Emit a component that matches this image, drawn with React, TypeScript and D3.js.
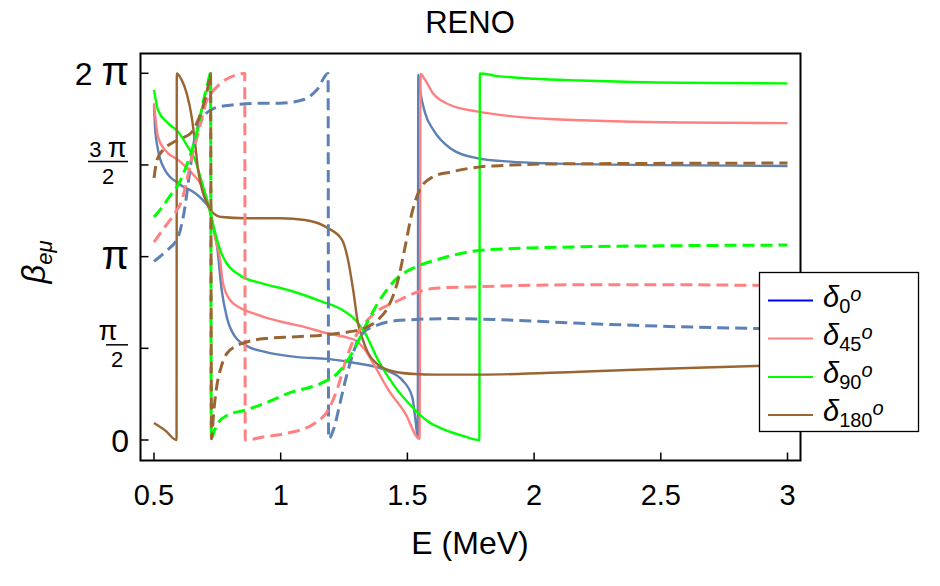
import React from 'react';
import * as d3 from 'd3';

type Pt = [number, number];

// beta_e-mu phase (rad) against neutrino energy E (MeV); solid and dashed branches per delta
const delta0Solid: Pt[] = [
  [0.5, 5.74], [0.504, 5.36], [0.516, 4.97], [0.543, 4.63], [0.595, 4.4], [0.662, 4.23],
  [0.693, 4.11], [0.721, 3.94], [0.733, 3.65], [0.749, 3.31], [0.767, 2.57], [0.787, 2.11],
  [0.82, 1.77], [0.871, 1.6], [0.938, 1.51], [1.065, 1.42], [1.183, 1.39], [1.294, 1.32],
  [1.412, 1.2], [1.479, 1.03], [1.519, 0.74], [1.533, 0.3], [1.541, 0.03], [1.543, 6.26],
  [1.55, 6.0], [1.57, 5.6], [1.603, 5.31], [1.669, 5.0], [1.774, 4.83], [1.905, 4.77],
  [2.063, 4.74], [2.5, 4.71], [3.0, 4.695],
];
const delta45Solid: Pt[] = [
  [0.5, 5.77], [0.516, 5.19], [0.543, 4.97], [0.595, 4.8], [0.65, 4.57], [0.69, 4.34],
  [0.713, 4.06], [0.729, 3.77], [0.741, 3.48], [0.761, 3.08], [0.772, 2.69], [0.8, 2.4],
  [0.846, 2.25], [0.899, 2.16], [0.938, 2.1], [1.029, 2.0], [1.1, 1.93], [1.163, 1.85],
  [1.266, 1.75], [1.294, 1.71], [1.333, 1.54], [1.372, 1.26], [1.425, 0.86], [1.491, 0.46],
  [1.548, 0.02], [1.552, 6.27], [1.57, 6.17], [1.601, 5.94], [1.669, 5.74], [1.774, 5.63],
  [1.905, 5.55], [2.063, 5.5], [2.182, 5.48], [2.577, 5.44], [3.0, 5.43],
];
const delta90Solid: Pt[] = [
  [0.5, 6.0], [0.516, 5.65], [0.555, 5.43], [0.595, 5.28], [0.634, 5.02], [0.662, 4.8],
  [0.69, 4.4], [0.709, 4.11], [0.729, 3.77], [0.749, 3.43], [0.772, 3.14], [0.84, 2.82],
  [0.93, 2.68], [1.029, 2.57], [1.163, 2.37], [1.242, 2.23], [1.294, 2.06], [1.333, 1.83],
  [1.384, 1.37], [1.451, 0.91], [1.518, 0.57], [1.58, 0.32], [1.65, 0.17], [1.72, 0.07],
  [1.784, 0.0], [1.786, 6.28], [1.85, 6.24], [2.0, 6.19], [2.182, 6.16], [2.577, 6.12],
  [3.0, 6.11],
];
const delta180Solid: Pt[] = [
  [0.5, 0.29], [0.545, 0.16], [0.589, 0.0], [0.59, 6.28], [0.609, 6.17], [0.629, 5.94],
  [0.649, 5.53], [0.662, 5.09], [0.674, 4.63], [0.69, 4.28], [0.709, 4.06], [0.729, 3.91],
  [0.768, 3.82], [0.859, 3.8], [1.0, 3.8], [1.096, 3.77], [1.187, 3.63], [1.242, 3.43],
  [1.266, 3.08], [1.286, 2.57], [1.305, 2.0], [1.321, 1.76], [1.345, 1.49], [1.384, 1.29],
  [1.451, 1.17], [1.53, 1.13], [1.609, 1.12], [1.787, 1.12], [2.182, 1.17], [2.577, 1.23],
  [3.0, 1.285],
];

const delta0Dashed: Pt[] = [
  [0.5, 3.06], [0.543, 3.22], [0.595, 3.48], [0.622, 3.99], [0.642, 4.63], [0.662, 5.19],
  [0.693, 5.52], [0.741, 5.69], [0.808, 5.74], [0.938, 5.77], [0.997, 5.77], [1.088, 5.83],
  [1.143, 6.0], [1.187, 6.28], [1.189, 0.02], [1.21, 0.2], [1.234, 0.63], [1.254, 1.0],
  [1.274, 1.32], [1.305, 1.71], [1.33, 1.86], [1.365, 1.94], [1.471, 2.05], [1.669, 2.08],
  [1.866, 2.06], [2.182, 2.0], [2.577, 1.94], [2.88, 1.91], [3.0, 1.9],
];
const delta45Dashed: Pt[] = [
  [0.5, 3.39], [0.543, 3.65], [0.583, 3.89], [0.61, 4.11], [0.63, 4.46], [0.65, 4.85],
  [0.67, 5.19], [0.69, 5.53], [0.709, 5.83], [0.729, 5.96], [0.768, 6.13], [0.82, 6.25],
  [0.858, 6.28], [0.86, 0.0], [0.93, 0.05], [1.029, 0.12], [1.136, 0.29], [1.187, 0.51],
  [1.226, 0.91], [1.254, 1.32], [1.282, 1.66], [1.321, 1.94], [1.372, 2.18], [1.451, 2.36],
  [1.53, 2.52], [1.609, 2.6], [1.807, 2.63], [2.182, 2.66], [2.577, 2.66], [3.0, 2.64],
];
const delta90Dashed: Pt[] = [
  [0.5, 3.82], [0.532, 3.99], [0.571, 4.23], [0.595, 4.37], [0.622, 4.63], [0.65, 4.97],
  [0.674, 5.36], [0.693, 5.77], [0.713, 6.12], [0.723, 6.28], [0.726, 0.02], [0.74, 0.18],
  [0.753, 0.29], [0.792, 0.43], [0.859, 0.51], [0.938, 0.63], [1.029, 0.8], [1.163, 0.98],
  [1.226, 1.15], [1.282, 1.49], [1.333, 1.94], [1.384, 2.35], [1.451, 2.74], [1.53, 2.96],
  [1.609, 3.08], [1.815, 3.26], [2.182, 3.31], [2.577, 3.33], [3.0, 3.34],
];
const delta180Dashed: Pt[] = [
  [0.5, 4.49], [0.512, 4.8], [0.536, 4.97], [0.571, 5.09], [0.611, 5.17], [0.65, 5.28],
  [0.674, 5.48], [0.693, 5.71], [0.713, 6.05], [0.723, 6.28], [0.727, 0.02], [0.735, 0.45],
  [0.747, 0.9], [0.765, 1.25], [0.787, 1.48], [0.82, 1.6], [0.859, 1.67], [0.938, 1.74],
  [1.063, 1.77], [1.195, 1.81], [1.266, 1.85], [1.333, 1.92], [1.384, 2.06], [1.424, 2.28],
  [1.463, 2.74], [1.491, 3.31], [1.518, 3.89], [1.55, 4.3], [1.601, 4.51], [1.669, 4.59],
  [1.787, 4.68], [1.905, 4.71], [2.063, 4.73], [3.0, 4.745],
];

const xTicks = [0.5, 1, 1.5, 2, 2.5, 3];
const xTickLabels = ['0.5', '1', '1.5', '2', '2.5', '3'];
const yTicks = [0, Math.PI / 2, Math.PI, (3 * Math.PI) / 2, 2 * Math.PI];
// numerator / denominator of each y tick label ('' = no fraction)
const yTickNum = ['0', 'π', 'π', '3 π', '2 π'];
const yTickDen = ['', '2', '', '2', ''];

const legendSubs = ['0', '45', '90', '180'];
const curveColors = ['#5e81b5', '#ff8080', '#00ff00', '#996633'];
const legendColors = ['#0000ff', '#ff8080', '#00ff00', '#996633'];

const solids = [delta0Solid, delta45Solid, delta90Solid, delta180Solid];
const dashes = [delta0Dashed, delta45Dashed, delta90Dashed, delta180Dashed];

const FONT = '"Liberation Sans", Arial, Helvetica, sans-serif';

const frame = { left: 140.5, right: 800.5, top: 53.5, bottom: 460.5 };

const x = d3.scaleLinear().domain([0.5, 3]).range([154, 787.5]);
const y = d3.scaleLinear().domain([0, 2 * Math.PI]).range([440, 73.3]);

const line = d3
  .line<Pt>()
  .x((d) => x(d[0]))
  .y((d) => y(d[1]))
  .curve(d3.curveMonotoneX);

const PiText = ({ s }: { s: string }) => {
  // render π a little larger so it sits at digit height
  const parts = s.split('π');
  return (
    <>
      {parts[0]}
      {parts.length > 1 && <tspan fontSize="1.25em">π</tspan>}
    </>
  );
};

export default function App() {
  const legend = { x: 759.5, y: 272.5, w: 159, h: 159 };
  const legendRowY = [300.5, 338.5, 377, 415];

  return (
    <svg width={940} height={586} style={{ display: 'block', margin: '-8px' }} fontFamily={FONT}>
      <rect width={940} height={586} fill="#fff" />

      <text x={470} y={33} textAnchor="middle" fontSize={31}>
        RENO
      </text>

      <g fill="none" strokeLinejoin="round">
        {solids.map((d, i) => (
          <path key={'s' + i} d={line(d) ?? ''} stroke={curveColors[i]} strokeWidth={2.4} />
        ))}
        {dashes.map((d, i) => (
          <path
            key={'d' + i}
            d={line(d) ?? ''}
            stroke={curveColors[i]}
            strokeWidth={3}
            strokeDasharray="12,6"
          />
        ))}
      </g>

      {/* frame and ticks */}
      <rect
        x={frame.left}
        y={frame.top}
        width={frame.right - frame.left}
        height={frame.bottom - frame.top}
        fill="none"
        stroke="#000"
        strokeWidth={2}
      />
      {xTicks.map((t, i) => (
        <g key={'xt' + i}>
          <line x1={x(t)} x2={x(t)} y1={frame.bottom} y2={frame.bottom - 8} stroke="#000" strokeWidth={1.5} />
          <text x={x(t)} y={505} textAnchor="middle" fontSize={29}>
            {xTickLabels[i]}
          </text>
        </g>
      ))}
      {yTicks.map((t, i) => (
        <g key={'yt' + i}>
          <line x1={frame.left} x2={frame.left + 8} y1={y(t)} y2={y(t)} stroke="#000" strokeWidth={1.5} />
          {yTickDen[i] === '' ? (
            <text x={129} y={y(t) + 12} textAnchor="end" fontSize={32}>
              <PiText s={yTickNum[i]} />
            </text>
          ) : (
            <g>
              <text x={108} y={y(t) - 8} textAnchor="middle" fontSize={22}>
                <PiText s={yTickNum[i]} />
              </text>
              <line
                x1={yTickNum[i].length > 1 ? 88 : 106}
                x2={128}
                y1={y(t) - 3.5}
                y2={y(t) - 3.5}
                stroke="#000"
                strokeWidth={1.5}
              />
              <text x={yTickNum[i].length > 1 ? 108 : 117} y={y(t) + 19} textAnchor="middle" fontSize={22}>
                {yTickDen[i]}
              </text>
            </g>
          )}
        </g>
      ))}

      <text x={470} y={554} textAnchor="middle" fontSize={32}>
        E (MeV)
      </text>
      <text transform="translate(45,262) rotate(-90)" textAnchor="middle" fontSize={33} fontStyle="italic">
        β<tspan fontSize={22} dy={7}>eμ</tspan>
      </text>

      {/* legend */}
      <rect x={legend.x} y={legend.y} width={legend.w} height={legend.h} fill="#fff" stroke="#000" strokeWidth={1.3} />
      {legendSubs.map((s, i) => (
        <g key={'lg' + i}>
          <line x1={768} x2={813} y1={legendRowY[i]} y2={legendRowY[i]} stroke={legendColors[i]} strokeWidth={2.2} />
          <text x={823} y={legendRowY[i] + 6} fontSize={29} fontStyle="italic">
            δ<tspan fontSize={20} fontStyle="normal" dy={6}>{s}</tspan>
            <tspan fontSize={20} dy={-12}>o</tspan>
          </text>
        </g>
      ))}
    </svg>
  );
}
